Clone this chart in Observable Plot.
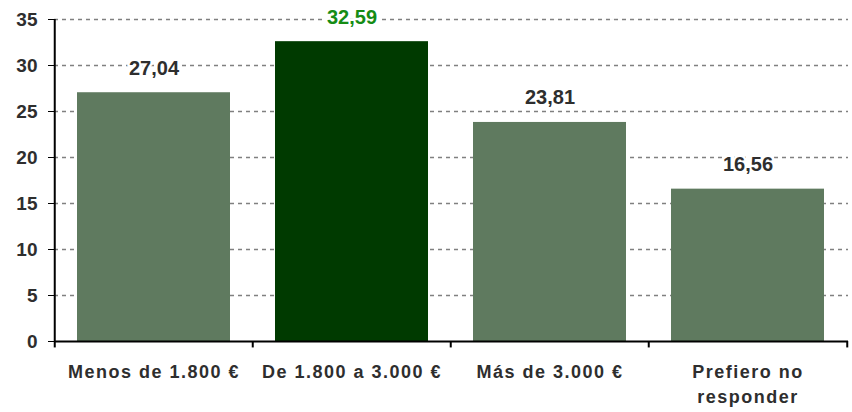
<!DOCTYPE html>
<html><head><meta charset="utf-8">
<script src="https://cdn.jsdelivr.net/npm/d3@7"></script>
<script src="https://cdn.jsdelivr.net/npm/@observablehq/plot@0.6"></script>
<style>
body{margin:0;background:#fff;}
#chart svg{font-family:"Liberation Sans",Arial,sans-serif;background:#fff;}
g[aria-label="x-axis tick label"] text{letter-spacing:1.5px;}
</style></head><body><div id="chart"></div>
<script>
const categories = ["Menos de 1.800 €", "De 1.800 a 3.000 €", "Más de 3.000 €", "Prefiero no\nresponder"];
const values = [27.04, 32.59, 23.81, 16.56];
const valueLabels = ["27,04", "32,59", "23,81", "16,56"];
const highlight = "De 1.800 a 3.000 €";
const yTicks = [0, 5, 10, 15, 20, 25, 30, 35];

const data = categories.map((c, i) => ({category: c, value: values[i], label: valueLabels[i], hi: c === highlight}));

const W = 852, H = 412, mL = 54, mR = 4, mT = 19, mB = 71;
const pIn = 0.225, pOut = 0.1125;
const step = (W - mL - mR) / (categories.length - pIn + 2 * pOut);

const chart = Plot.plot({
  width: W, height: H,
  marginLeft: mL, marginRight: mR, marginTop: mT, marginBottom: mB,
  x: {domain: categories, paddingInner: pIn, paddingOuter: pOut, label: null},
  y: {domain: [0, 35], label: null},
  marks: [
    Plot.gridY({ticks: yTicks.filter(v => v > 0), stroke: "#808080", strokeOpacity: 1, strokeWidth: 1.5, strokeDasharray: "4,4"}),
    Plot.barY(data, {x: "category", y: "value", fill: d => d.hi ? "#003a00" : "#5f7a5f"}),
    Plot.ruleY([0], {stroke: "#000", strokeWidth: 2}),
    Plot.ruleX([categories[0]], {x: d => d, y1: 0, y2: 35, dx: -step / 2, stroke: "#000", strokeWidth: 2}),
    Plot.ruleX(categories, {x: d => d, y1: -0.7, y2: 0, dx: -step / 2, stroke: "#000", strokeWidth: 2}),
    Plot.ruleX([categories[categories.length - 1]], {x: d => d, y1: -0.7, y2: 0, dx: step / 2, stroke: "#000", strokeWidth: 2}),
    Plot.text(data, {x: "category", y: "value", text: "label", dy: -18, lineAnchor: "bottom",
      fill: d => d.hi ? "#158c15" : "#2e2e2e", stroke: "white", strokeWidth: 5, paintOrder: "stroke",
      fontSize: 20, fontWeight: "bold"}),
    Plot.axisY({ticks: yTicks, tickSize: 6, tickPadding: 11, fontSize: 19, fontWeight: "bold", color: "#2e2e2e", stroke: "#000", tickFormat: d => d}),
    Plot.axisX({tickSize: 0, tickPadding: 19, fontSize: 18, fontWeight: "bold", color: "#2e2e2e", lineHeight: 1.39, lineAnchor: "top"})
  ]
});
document.getElementById("chart").appendChild(chart);
</script></body></html>
